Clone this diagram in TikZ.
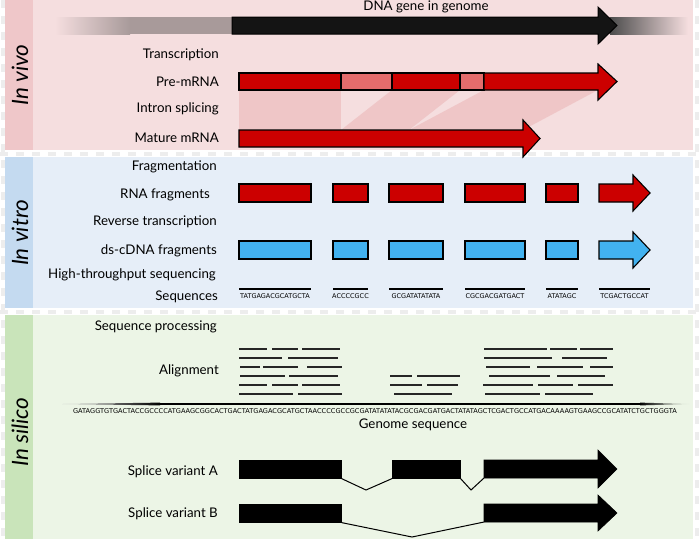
\documentclass[tikz,border=0pt]{standalone}
\usepackage{fontspec}
\setmainfont{Lato}
\newfontfamily\seqfont{DejaVu Sans}
\usepackage{xcolor}
\definecolor{vivobg}{RGB}{245,222,223}
\definecolor{vivostrip}{RGB}{239,199,201}
\definecolor{vitrobg}{RGB}{230,238,248}
\definecolor{vitrostrip}{RGB}{196,218,240}
\definecolor{silicobg}{RGB}{236,245,230}
\definecolor{silicostrip}{RGB}{201,228,186}
\definecolor{rnared}{RGB}{204,0,0}
\definecolor{intronred}{RGB}{228,108,108}
\definecolor{cdnablue}{RGB}{66,178,240}
\definecolor{splicepink}{RGB}{239,198,199}
\definecolor{dnagray}{RGB}{168,154,154}
\definecolor{dnablack}{RGB}{20,20,20}

\begin{document}
\begin{tikzpicture}[
        x=1pt, y=-1pt,
        line join=miter,
        steplabel/.style={anchor=east, inner sep=0pt, yshift=-1.5pt, font=\fontsize{13.3}{16}\selectfont},
        sectionlabel/.style={rotate=90, inner sep=0pt, font=\itshape\fontsize{22.5}{26}\selectfont},
        seqtext/.style={inner sep=0pt, font=\seqfont\fontsize{6.5}{7}\selectfont},
        redexon/.style={fill=rnared, draw=black, line width=1.1pt},
        intronbox/.style={fill=intronred, draw=black, line width=1.1pt},
        blueexon/.style={fill=cdnablue, draw=black, line width=1.1pt},
        blackexon/.style={fill=black, draw=black, line width=0.6pt, inner sep=0pt, anchor=north west, minimum height=18pt},
        readline/.style={line width=1.3pt, black!85},
        gapline/.style={gray!14, line width=4pt, dash pattern=on 8pt off 8pt}
    ]
        \useasboundingbox (0,0) rectangle (700,539);
        \fill[white] (0,0) rectangle (700,539);
        % Section backgrounds
        \foreach \ya/\yb/\bg/\strip in {
            0/150/vivobg/vivostrip,
            157/308/vitrobg/vitrostrip,
            315/539/silicobg/silicostrip} {
            \fill[\bg] (33,\ya) rectangle (693,\yb);
            \fill[\strip] (5,\ya) rectangle (33,\yb);
        }
        \foreach \y in {153.5, 311.5} {
            \draw[gapline] (0,\y) -- (700,\y);
        }
        \draw[gapline] (2.5,0) -- (2.5,539);
        \draw[gapline] (696.5,0) -- (696.5,539);
        % Section labels
        \node[sectionlabel] (invivo) at (20,75) {In vivo};
        \node[sectionlabel] (invitro) at (20,233) {In vitro};
        \node[sectionlabel] (insilico) at (20,432) {In silico};
        % Step labels
        \foreach \name/\x/\y/\ltext in {
            transcription/219/54/Transcription,
            premrna/219/82/Pre-mRNA,
            splicing/219/108/Intron splicing,
            mature/219/138/Mature mRNA,
            fragmentation/217/166/Fragmentation,
            rnafrag/210/194/RNA fragments,
            revtrans/217/221/Reverse transcription,
            cdnafrag/217/250/ds-cDNA fragments,
            sequencing/216/274/High-throughput sequencing,
            sequences/218/296/Sequences,
            processing/217/326/Sequence processing,
            alignment/219/370/Alignment,
            variantA/218/471/Splice variant A,
            variantB/218/513/Splice variant B} {
            \node[steplabel] (\name) at (\x,\y) {\ltext\strut};
        }
        % DNA gene
        \node[inner sep=0pt, font=\fontsize{13.3}{16}\selectfont] (dnagene) at (426,7) {DNA gene in genome};
        \shade[left color=vivobg, right color=dnagray] (55,17) rectangle (130,34);
        \fill[dnagray] (130,17) rectangle (233,34);
        \shade[left color=black!70, right color=vivobg] (610,17) rectangle (688,34);
        \draw[fill=dnablack, draw=black, line width=1pt] (232,17) -- (598,17) -- (598,7) -- (617,25.5) -- (598,44) -- (598,34) -- (232,34) -- cycle;
        % Splicing shades
        \fill[splicepink] (239,90) -- (341,90) -- (341,130) -- (239,130) -- cycle;
        \fill[splicepink] (392,90) -- (460,90) -- (409,130) -- (341,130) -- cycle;
        \fill[splicepink] (484,90) -- (598,90) -- (523,130) -- (409,130) -- cycle;
        % Pre-mRNA
        \draw[redexon] (239,73) rectangle (341,90);
        \draw[intronbox] (341,73) rectangle (392,90);
        \draw[redexon] (392,73) rectangle (460,90);
        \draw[intronbox] (460,73) rectangle (484,90);
        \draw[redexon] (484,73) -- (598,73) -- (598,64) -- (617,81.5) -- (598,100) -- (598,90) -- (484,90) -- cycle;
        % Mature mRNA
        \draw[redexon] (239,130) -- (523,130) -- (523,120) -- (540,138.5) -- (523,157) -- (523,147) -- (239,147) -- cycle;
        % Fragments
        \foreach \xa/\xb in {239/311, 333/368, 389/443, 465/525, 546/578} {
            \draw[redexon] (\xa,184) rectangle (\xb,202);
            \draw[blueexon] (\xa,241) rectangle (\xb,259);
        }
        \draw[redexon] (599,184) -- (633,184) -- (633,175) -- (650,193) -- (633,211) -- (633,202) -- (599,202) -- cycle;
        \draw[blueexon] (599,241) -- (633,241) -- (633,232) -- (650,250) -- (633,268) -- (633,259) -- (599,259) -- cycle;
        % Sequences
        \foreach \xa/\xb/\seq in {
            239/311/TATGAGACGCATGCTA,
            333/368/ACCCCGCC,
            389/443/GCGATATATATA,
            465/525/CGCGACGATGACT,
            546/578/ATATAGC,
            599/650/TCGACTGCCAT} {
            \draw[line width=1.2pt] (\xa,289) -- (\xb,289);
            \node[seqtext] at ({(\xa+\xb)/2},296) {\seq};
        }
        % Alignment reads
        \foreach \y/\segs in {
            349/{239/267,272/298,302/340,484/547,550/577,580/613},
            358/{239/282,288/338,484/552,562/607},
            367/{240/260,263/298,307/342,486/530,537/583,590/613},
            376/{240/285,289/338,390/412,417/460,489/550,557/605},
            385/{239/267,272/298,302/340,390/422,427/458,483/533,538/573,578/613},
            394/{239/293,298/342,394/452,485/540,545/593}} {
            \foreach \xa/\xb in \segs {
                \draw[readline] (\xa,\y) -- (\xb,\y);
            }
        }
        % Genome
        \shade[left color=gray!40, right color=black] (62,404) -- (160,402.6) -- (160,405.4) -- cycle;
        \fill[black] (160,402.6) rectangle (640,405.4);
        \shade[left color=black, right color=silicobg] (640,402.6) -- (690,404) -- (640,405.4) -- cycle;
        \node[seqtext, font=\seqfont\fontsize{6.6}{7}\selectfont] (genomeseq) at (375,411) {GATAGGTGTGACTACCGCCCCATGAAGCGGCACTGACTATGAGACGCATGCTAACCCCGCCGCGATATATATACGCGACGATGACTATATAGCTCGACTGCCATGACAAAAGTGAAGCCGCATATCTGCTGGGTA};
        \node[inner sep=0pt, font=\fontsize{13.3}{16}\selectfont] (genomelabel) at (413,425) {Genome sequence};
        % Splice variant A
        \node[blackexon, minimum width=102pt] (A1) at (239,460) {};
        \node[blackexon, minimum width=68pt] (A2) at (392,460) {};
        \draw[fill=black, line width=0.6pt] (484,460) -- (598,460) -- (598,450) -- (617,469) -- (598,488) -- (598,478) -- (484,478) -- cycle;
        \coordinate (A3) at (484,478);
        \draw[line width=1pt] (A1.south east) -- (366,490) -- (A2.south west);
        \draw[line width=1pt] (A2.south east) -- (471,490) -- (A3);
        % Splice variant B
        \node[blackexon, minimum width=102pt] (B1) at (239,504) {};
        \draw[fill=black, line width=0.6pt] (484,504) -- (598,504) -- (598,495) -- (617,513) -- (598,531) -- (598,522) -- (484,522) -- cycle;
        \coordinate (B3) at (484,522);
        \draw[line width=1pt] (B1.south east) -- (412,537) -- (B3);
    \end{tikzpicture}
\end{document}
